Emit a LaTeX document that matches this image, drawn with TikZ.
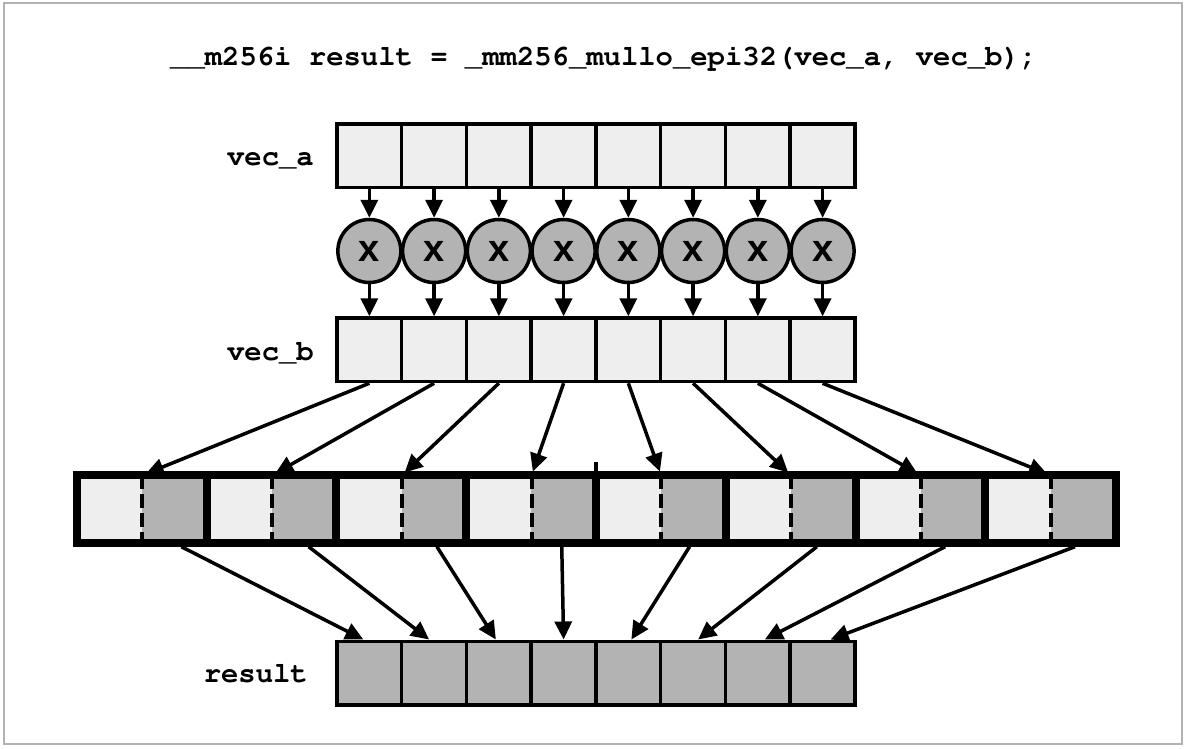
\documentclass[tikz,border=0pt]{standalone}
\usepackage[T1]{fontenc}
\usepackage{fontspec}
\newfontfamily\xfont{Liberation Sans}
\usepackage{tikz}
\usetikzlibrary{arrows.meta}
\usetikzlibrary{calc}
\definecolor{mylight}{RGB}{238,238,238}
\definecolor{mydark}{RGB}{179,179,179}
\newcommand{\codefont}{\fontencoding{T1}\fontfamily{pcr}\fontseries{b}\fontsize{28.9}{30}\selectfont}

\begin{document}
\begin{tikzpicture}[x=1pt,y=-1pt,>={Triangle[length=18pt,width=17pt]},
    codetext/.style={font=\codefont, inner sep=0pt}]
	\useasboundingbox (0,0) rectangle (1186,748);
	\draw[gray!60, line width=1.5pt] (4,3) rectangle (1182,744);

	\node[codetext, anchor=base west] (title) at (170,65) {\_\_m256i result = \_mm256\_mullo\_epi32(vec\_a, vec\_b);};
	\node[codetext, anchor=base east] (la) at (314,165) {vec\_a};
	\node[codetext, anchor=base east] (lb) at (314,360) {vec\_b};
	\node[codetext, anchor=base east] (lr) at (308,682) {result};

	% the two input vectors and the result
	\begin{scope}[every node/.style={draw, line width=3.5pt, fill=mylight, inner sep=0pt,
	              minimum width=64.75pt, minimum height=63.5pt}]
	    \foreach \i in {1,...,8} {
	        \node (a\i) at ({304.6+64.75*\i},155.5) {};
	        \node (b\i) at ({304.6+64.75*\i},349.75) {};
	        \node[fill=mydark] (r\i) at ({304.6+64.75*\i},673) {};
	    }
	\end{scope}

	\begin{scope}[every node/.style={circle, draw, line width=3.5pt, fill=mydark, inner sep=0pt,
	              minimum size=63pt, font=\xfont\bfseries\fontsize{38}{38}\selectfont}]
	    \foreach \i in {1,...,8}
	        \node (m\i) at ({304.6+64.75*\i},251) {x};
	\end{scope}

	% 64-bit products, low and high halves
	\begin{scope}[every node/.style={inner sep=0pt, minimum width=64.9pt, minimum height=67pt}]
	    \foreach \i in {1,...,8} {
	        \node[fill=mylight] (l\i) at ({77+129.8*(\i-1)+32.45},509) {};
	        \node[fill=mydark] (h\i) at ({77+129.8*(\i-1)+97.35},509) {};
	    }
	\end{scope}
	\draw[line width=8pt] (l1.north west) rectangle (h8.south east);
	\foreach \i in {2,...,8}
	    \draw[line width=8pt] (l\i.north west) -- (l\i.south west);
	\draw[line width=4.5pt] (l5.north west) -- ++(0,-13);
	\foreach \i in {1,...,8}
	    \draw[line width=4pt, dash pattern=on 14pt off 5pt] (l\i.north east) -- (l\i.south east);

	\begin{scope}[line width=3.5pt]
	    \foreach \i in {1,...,8} {
	        \draw[->] (a\i) -- (m\i);
	        \draw[->] (m\i) -- (b\i);
	        \draw[->, shorten >=4pt] (b\i.south) -- (l\i.north east);
	    }
	    \foreach \i/\s/\e in {1/7/-6, 2/4.5/-5, 3/3/-3, 4/-2/0, 5/-4/3, 6/-6.5/5, 7/-8/7, 8/-8/8}
	        \draw[->] ($(h\i.south)+(\s,4)$) -- ($(r\i.north)+(\e,0)$);
	\end{scope}
\end{tikzpicture}
\end{document}
